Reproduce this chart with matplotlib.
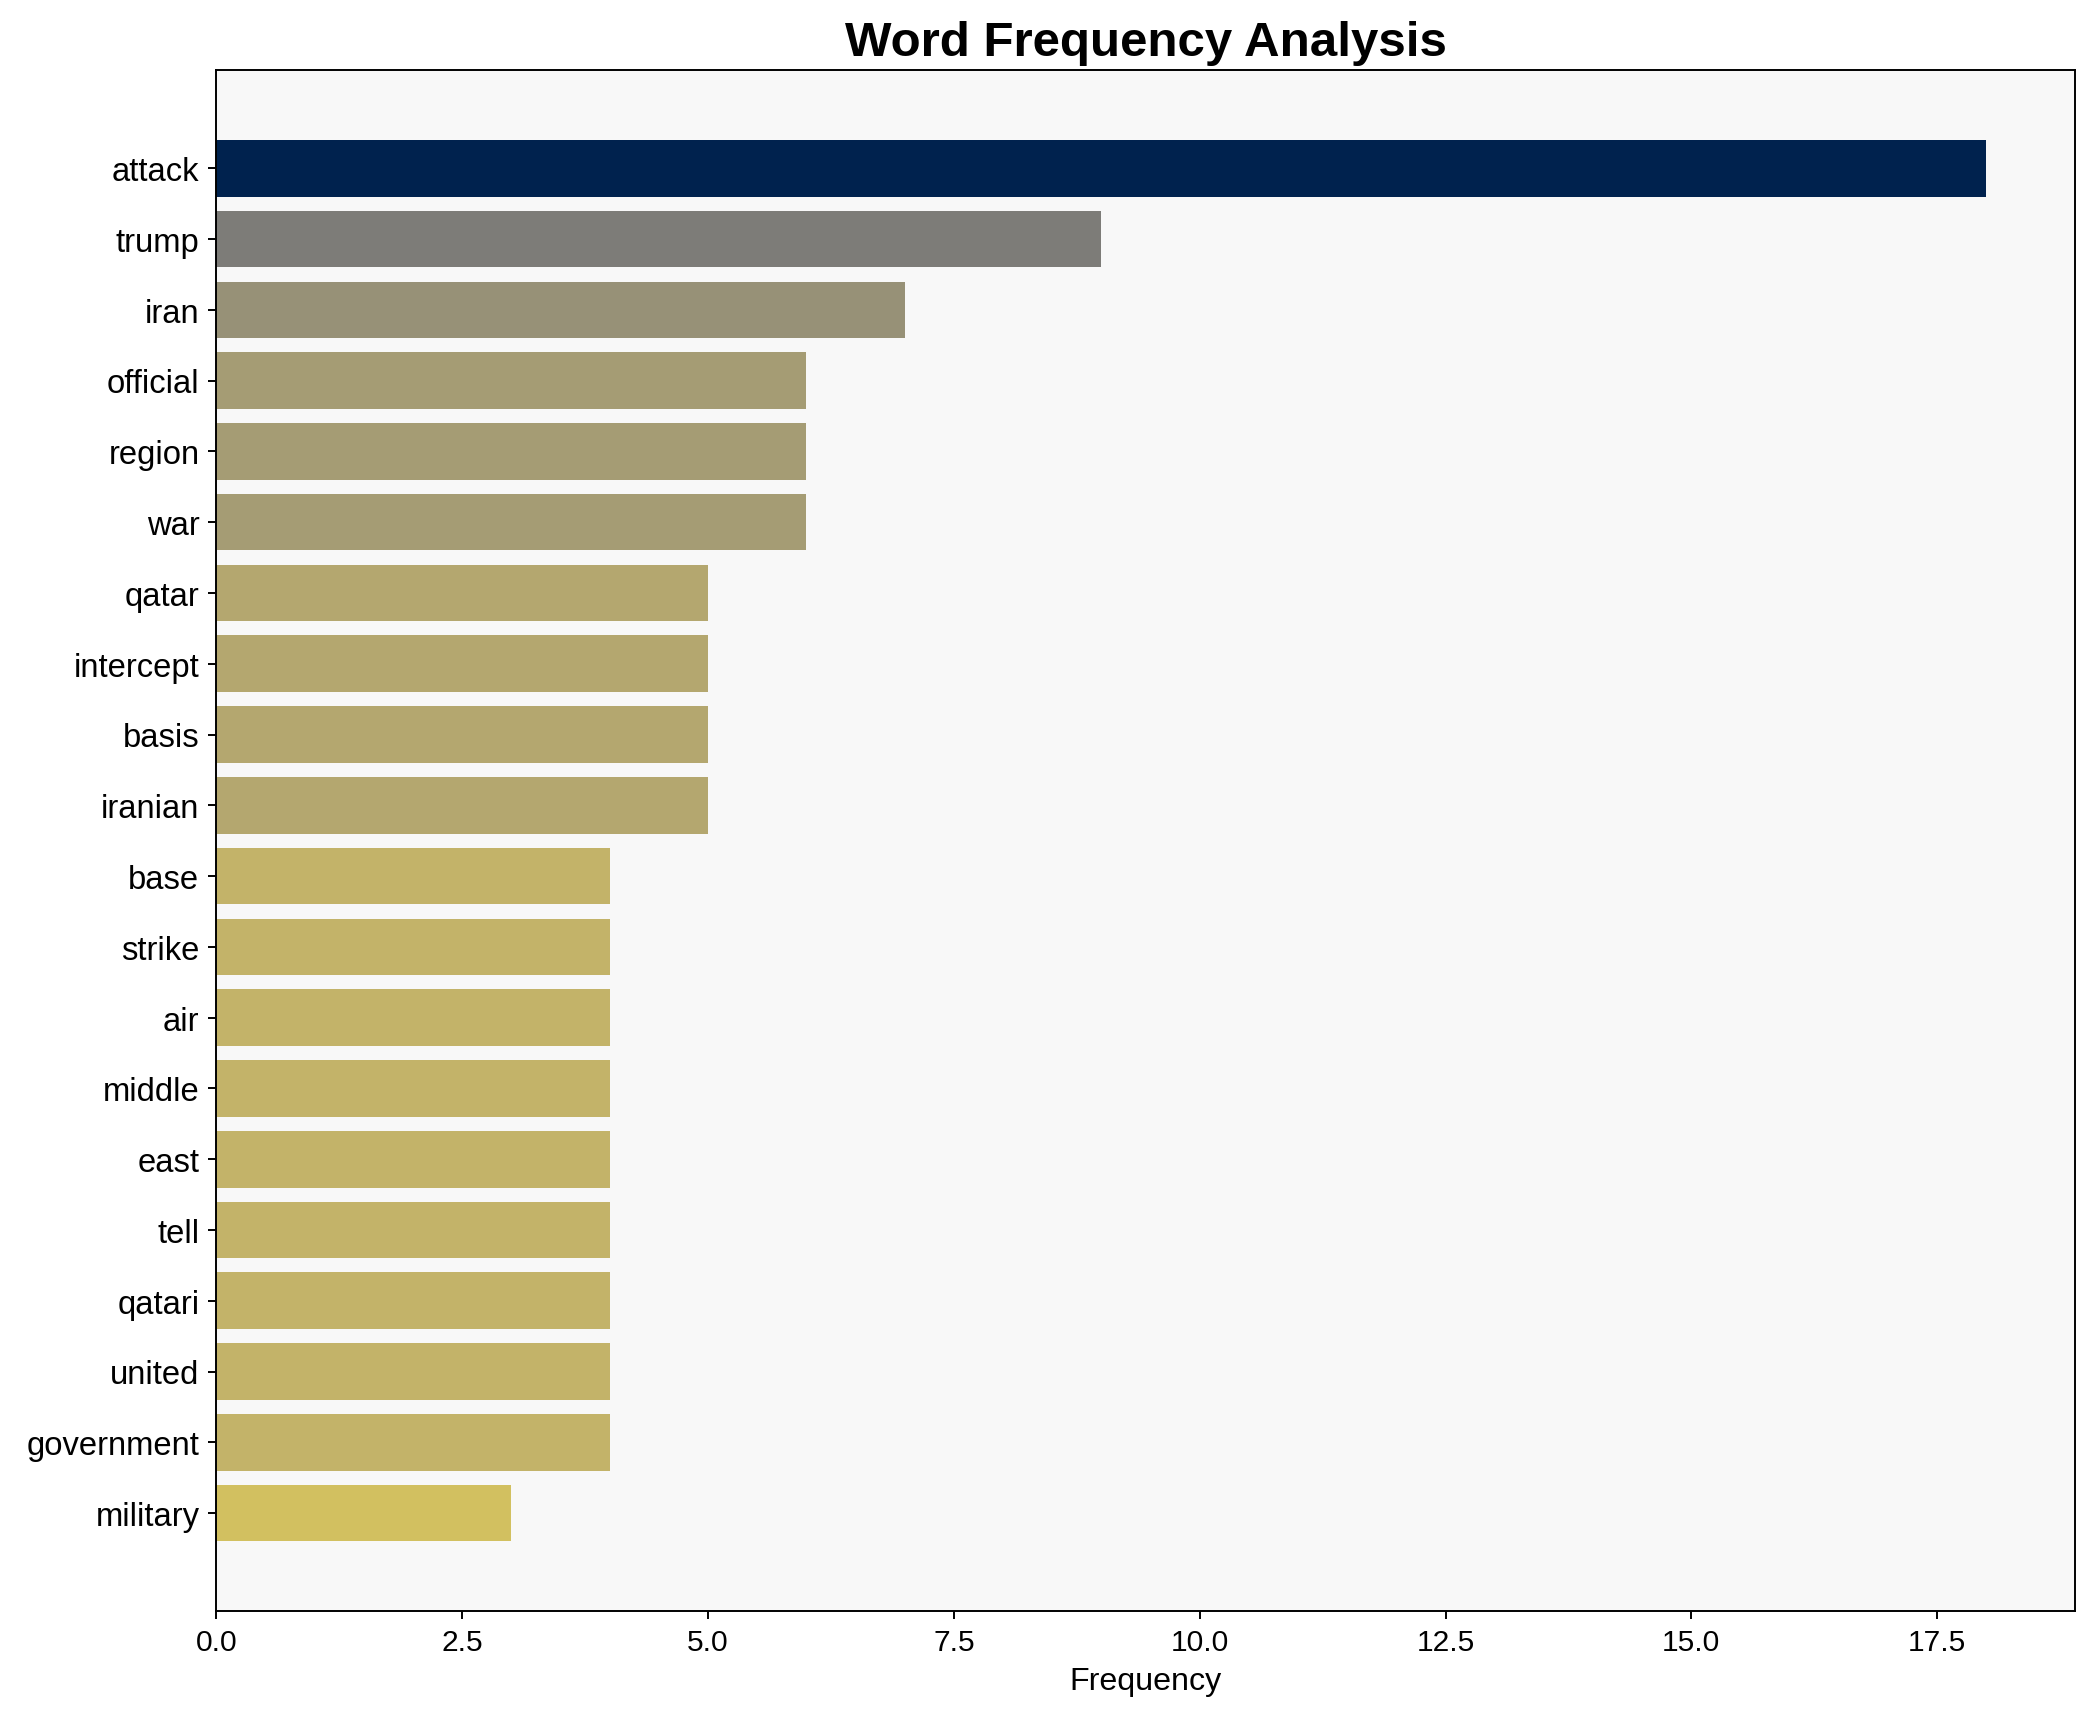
import numpy as np
import matplotlib.pyplot as plt

plt.rcParams['font.family'] = ['Liberation Sans', 'DejaVu Sans']

# word counts
words = ['attack', 'trump', 'iran', 'official', 'region', 'war', 'qatar',
         'intercept', 'basis', 'iranian', 'base', 'strike', 'air', 'middle',
         'east', 'tell', 'qatari', 'united', 'government', 'military']
counts = np.array([18, 9, 7, 6, 6, 6, 5, 5, 5, 5, 4, 4, 4, 4, 4, 4, 4, 4, 4, 3])

colors = plt.cm.cividis(1 - counts / counts.max())

fig, ax = plt.subplots(figsize=(12, 9.863), dpi=174.58)
ax.set_facecolor('#f8f8f8')
ax.barh(words, counts, color=colors)
ax.invert_yaxis()

ax.set_title('Word Frequency Analysis', fontsize=20.3, fontweight='bold')
ax.set_xlabel('Frequency', fontsize=13.3)
ax.tick_params(axis='y', labelsize=13.5)
ax.tick_params(axis='x', labelsize=12.4)

plt.tight_layout()
fig.subplots_adjust(left=0.1033, right=0.9904, top=0.9589, bottom=0.0636)
plt.savefig('out.png')
